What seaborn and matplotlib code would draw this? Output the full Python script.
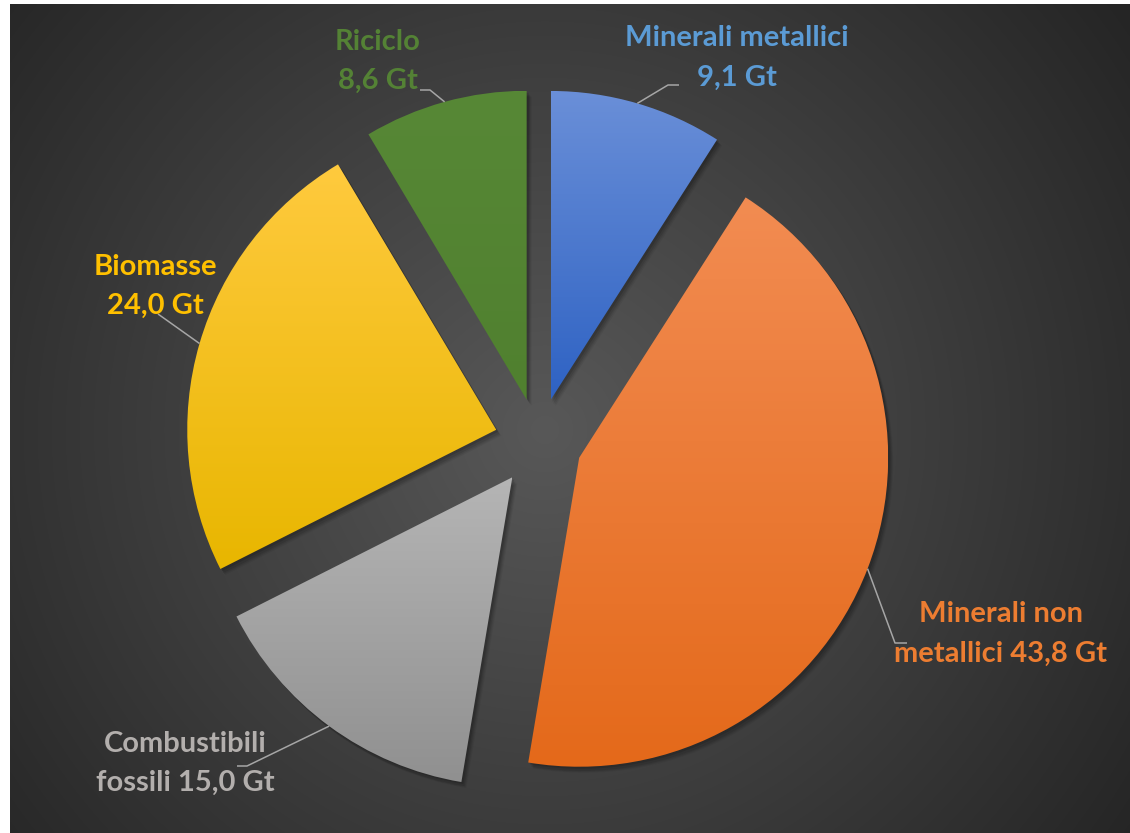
import numpy as np
import matplotlib
matplotlib.use("Agg")
import matplotlib.pyplot as plt
from matplotlib.colors import to_rgb
from matplotlib.patches import Wedge
import seaborn as sns

# Global material extraction by category (Gt)
categories = ["Minerali metallici", "Minerali non metallici", "Combustibili fossili",
              "Biomasse", "Riciclo"]
values = [9.1, 43.8, 15.0, 24.0, 8.6]
label_texts = ["Minerali metallici\n9,1 Gt", "Minerali non\nmetallici 43,8 Gt",
               "Combustibili\nfossili 15,0 Gt", "Biomasse\n24,0 Gt", "Riciclo\n8,6 Gt"]

# gradient (top, bottom) per wedge, and label colours
grad_top = ["#6a8fd8", "#f28c52", "#b5b5b5", "#ffca3e", "#578836"]
grad_bot = ["#2e62c3", "#e4691a", "#909090", "#e8b600", "#50802f"]
text_colors = ["#5b9bd5", "#ed7d31", "#b3afad", "#ffc000", "#548235"]

W, H = 1130, 833
sns.set_theme(style="dark")
plt.rcParams["font.family"] = ["Lato", "DejaVu Sans"]

fig = plt.figure(figsize=(W / 100, H / 100), dpi=100, facecolor="white")
ax = fig.add_axes([0, 0, 1, 1])
ax.set_facecolor("white")


def py(y):
    """pixel row (top-down) -> data y (bottom-up)"""
    return H - y


# radial background
bx0, bx1, by0, by1 = 10, W, 0, py(4)
gx = np.linspace(bx0, bx1, 600)
gy = np.linspace(by0, by1, 450)
GX, GY = np.meshgrid(gx, gy)
cx_bg, cy_bg = 545, py(430)
d = np.sqrt((GX - cx_bg) ** 2 + (GY - cy_bg) ** 2) / 720.0
d = np.clip(d, 0, 1)
c_in, c_out = np.array(to_rgb("#585858")), np.array(to_rgb("#252525"))
bg = c_in[None, None, :] * (1 - d[..., None]) + c_out[None, None, :] * d[..., None]
ax.imshow(bg, extent=(bx0, bx1, by0, by1), origin="lower", zorder=0,
          interpolation="bilinear")

# pie geometry
center = (538.3, py(442))
radius = 309
explode = [43.8] * len(values)

wedges, _ = ax.pie(values, radius=radius, center=center, explode=explode,
                   startangle=90, counterclock=False,
                   wedgeprops=dict(linewidth=0, facecolor="none"))

# soft drop shadow
for w in wedges:
    for dx, dy, a in [(5, -6, 0.05), (4, -5, 0.07), (3, -4, 0.09), (2, -2, 0.12)]:
        sh = Wedge((w.center[0] + dx, w.center[1] + dy), w.r, w.theta1, w.theta2,
                   facecolor="black", edgecolor="none", alpha=a, zorder=1)
        ax.add_patch(sh)

# vertical gradient fill for each wedge
for w, top, bot in zip(wedges, grad_top, grad_bot):
    w.set_zorder(3)
    ext = w.get_path().transformed(w.get_patch_transform()).get_extents()
    t = np.linspace(0, 1, 256)[:, None, None]
    grad = np.array(to_rgb(bot))[None, None, :] * (1 - t) + np.array(to_rgb(top))[None, None, :] * t
    im = ax.imshow(grad, extent=(ext.x0, ext.x1, ext.y0, ext.y1), origin="lower",
                   aspect="auto", zorder=2, interpolation="bilinear")
    im.set_clip_path(w)

# labels with leader lines from the arc midpoint
label_pos = [(737, 58), (1001, 634), (185, 763.5), (155, 286.5), (378, 61.5)]
elbows = [[(668, 85), (679, 85)],
          [(895, 643), (907, 643)],
          [(247, 766), (237, 766)],
          [(158, 314)],
          [(430, 90), (420, 90)]]

for w, txt, col, pos, elb in zip(wedges, label_texts, text_colors, label_pos, elbows):
    mid = np.deg2rad(0.5 * (w.theta1 + w.theta2))
    ax_pt = (w.center[0] + w.r * np.cos(mid), w.center[1] + w.r * np.sin(mid))
    xs = [ax_pt[0]] + [e[0] for e in elb]
    ys = [ax_pt[1]] + [py(e[1]) for e in elb]
    ax.plot(xs, ys, color="#a6a6a6", lw=1.1, zorder=4, solid_capstyle="butt")
    ax.text(pos[0], py(pos[1]), txt, color=col, fontsize=21, fontweight="bold",
            ha="center", va="center", linespacing=1.62, zorder=5)

ax.set_xlim(0, W)
ax.set_ylim(0, H)
ax.set_aspect("auto")
ax.axis("off")

fig.savefig("out.png", dpi=100, facecolor="white")
